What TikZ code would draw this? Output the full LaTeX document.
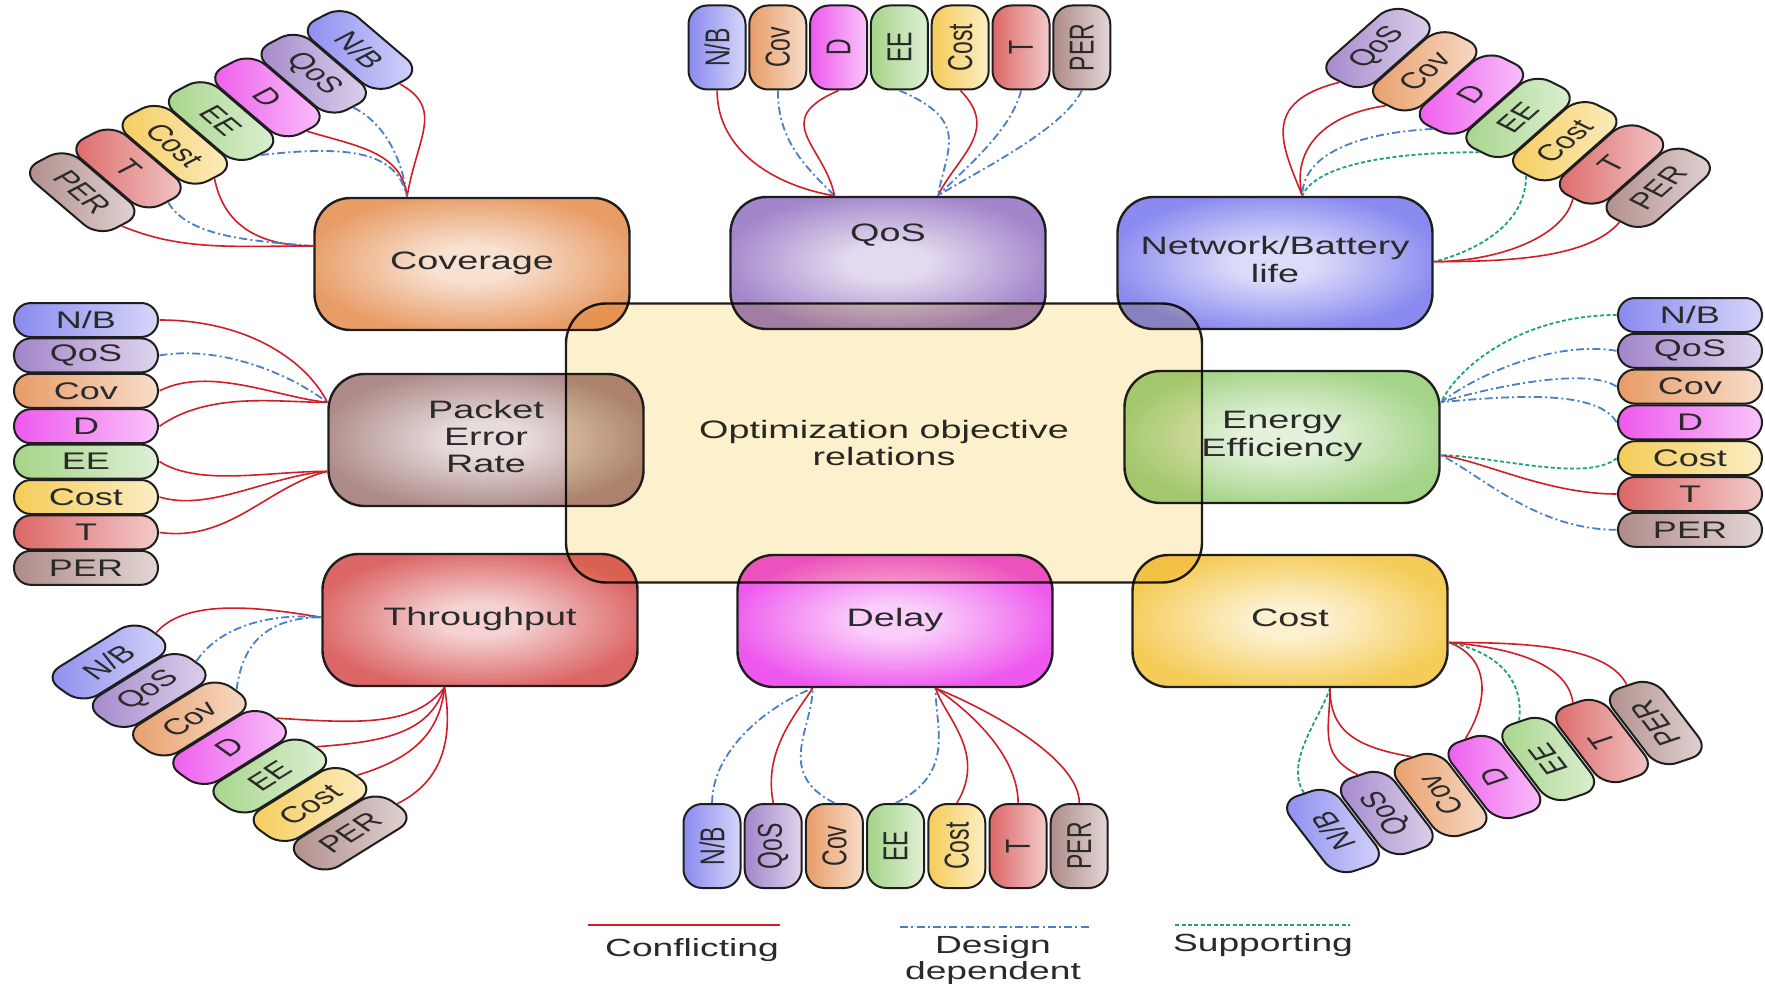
\documentclass[tikz,border=0pt]{standalone}
\usepackage{fontspec}
\usepackage{graphicx}
\setmainfont{Liberation Sans}
\usetikzlibrary{calc}

\definecolor{nbC}{HTML}{8A8AF0}
\definecolor{qosC}{HTML}{A285CA}
\definecolor{covC}{HTML}{E89C66}
\definecolor{dC}{HTML}{EE58EE}
\definecolor{eeC}{HTML}{A4D488}
\definecolor{costC}{HTML}{F5CC58}
\definecolor{tC}{HTML}{DC6666}
\definecolor{perC}{HTML}{AE8B88}
\definecolor{cenC}{HTML}{FDF0CC}
\definecolor{lineC}{HTML}{1E1E1E}
\definecolor{txtC}{HTML}{2A2A2A}
\definecolor{redC}{HTML}{D01E28}
\definecolor{blueC}{HTML}{4A7EC8}
\definecolor{greenC}{HTML}{1CA37A}

\newcommand{\nbtext}{N/B}
% wide lettering used in the box labels
\newcommand{\wtext}[1]{\scalebox{1.5}[1]{\begin{tabular}{@{}c@{}}#1\end{tabular}}}

\tikzset{
  % objective box: saturated rim fading to a pale core (stacked ellipses)
  bigbox/.style={draw=lineC, line width=1.2pt, rounded corners=18pt,
    minimum width=157.5pt, minimum height=66pt, inner sep=0pt, align=center,
    text=txtC, font=\fontsize{12.6}{13.6}\selectfont, fill=#1,
    path picture={
      \foreach \j in {0,...,36}{
        \pgfmathsetmacro{\rr}{1.05-0.025*\j}
        \pgfmathsetmacro{\mx}{max(30,min(100,30+70*(\rr-0.25)/0.75))}
        \fill[#1!\mx!white] (path picture bounding box.center)
          ellipse [x radius=\rr*85pt, y radius=\rr*36pt];
      }}},
  pill/.style={transform shape, draw=lineC, line width=1pt, rounded corners=9.4pt,
    minimum width=42pt, minimum height=19pt, inner sep=0pt, text=txtC,
    font=\fontsize{11.5}{12}\selectfont, left color=#1, right color=#1!35!white},
  hpill/.style={pill=#1, minimum width=48pt, minimum height=17pt,
    rounded corners=8.4pt, font=\fontsize{12}{12}\selectfont},
  conf/.style={draw=redC, line width=0.8pt},
  dsgn/.style={draw=blueC, line width=0.9pt, dash pattern=on 4pt off 1.6pt on 1pt off 1.6pt},
  supp/.style={draw=greenC, line width=0.9pt, dash pattern=on 2pt off 1.2pt},
  legtxt/.style={transform shape, text=txtC, font=\fontsize{12.4}{13}\selectfont, inner sep=0pt, align=center},
}

\begin{document}
\begin{tikzpicture}[x=0.5pt, y=-0.5pt]
\path[use as bounding box, fill=white] (0,0) rectangle (1765,984);

% objective boxes
\node[bigbox=covC]  (cov) at (472,264) {\wtext{Coverage}};
\node[bigbox=qosC]  (qos) at (888,263) {\scalebox{1.5}[1]{\raisebox{30pt}{QoS}}};
\node[bigbox=nbC]   (nbb) at (1275,263) {\wtext{Network/Battery\\life}};
\node[bigbox=perC]  (per) at (486,440) {\wtext{Packet\\Error\\Rate}};
\node[bigbox=eeC]   (eeb) at (1282,437) {\wtext{Energy\\Efficiency}};
\node[bigbox=tC]    (thr) at (480,620) {\wtext{Throughput}};
\node[bigbox=dC]    (del) at (895,621) {\wtext{Delay}};
\node[bigbox=costC] (cst) at (1290,621) {\wtext{Cost}};

% everything below is set in wide lettering
\begin{scope}[x=0.333333pt, xscale=1.5]

% central panel laid over the boxes
\begin{scope}[blend mode=multiply]
\node[transform shape, draw=lineC, line width=1.2pt, fill=cenC, rounded corners=20pt,
  minimum width=212pt, minimum height=139.5pt, inner sep=0pt, align=center,
  text=txtC, font=\fontsize{12.6}{13.5}\selectfont] (obj) at (884,443)
  {Optimization objective\\relations};
\end{scope}

% attachment points on the boxes
\coordinate (covT) at ($(cov.north west)!0.295!(cov.north east)$);
\coordinate (covL) at ($(cov.north west)!0.366!(cov.south west)$);
\coordinate (qT1) at ($(qos.north west)!0.331!(qos.north east)$);
\coordinate (qT2) at ($(qos.north west)!0.656!(qos.north east)$);
\coordinate (nT) at ($(nbb.north west)!0.585!(nbb.north east)$);
\coordinate (nR) at ($(nbb.north east)!0.49!(nbb.south east)$);
\coordinate (pU) at ($(per.north west)!0.22!(per.south west)$);
\coordinate (pD) at ($(per.north west)!0.733!(per.south west)$);
\coordinate (eU) at ($(eeb.north east)!0.24!(eeb.south east)$);
\coordinate (eD) at ($(eeb.north east)!0.636!(eeb.south east)$);
\coordinate (tL) at ($(thr.north west)!0.48!(thr.south west)$);
\coordinate (tB) at ($(thr.south west)!0.388!(thr.south east)$);
\coordinate (dL) at ($(del.south west)!0.24!(del.south east)$);
\coordinate (dR) at ($(del.south west)!0.627!(del.south east)$);
\coordinate (cB) at ($(cst.south west)!0.625!(cst.south east)$);
\coordinate (cR) at ($(cst.north east)!0.66!(cst.south east)$);

% pill groups
\foreach \k/\txt/\col [count=\i from 0] in {nb/\nbtext/nbC, qos/QoS/qosC, d/D/dC, ee/EE/eeC, cost/Cost/costC, t/T/tC, per/PER/perC}
  \node[pill=\col, rotate=-52] (g1-\k) at ({360-46.3*\i},{50+23.7*\i}) {\txt};
\foreach \k/\txt/\col [count=\i from 0] in {nb/\nbtext/nbC, cov/Cov/covC, d/D/dC, ee/EE/eeC, cost/Cost/costC, t/T/tC, per/PER/perC}
  \node[pill=\col, rotate=90] (g2-\k) at ({717+60.8*\i},47.5) {\txt};
\foreach \k/\txt/\col [count=\i from 0] in {qos/QoS/qosC, cov/Cov/covC, d/D/dC, ee/EE/eeC, cost/Cost/costC, t/T/tC, per/PER/perC}
  \node[pill=\col, rotate=53] (g3-\k) at ({1378+46.7*\i},{48+23.3*\i}) {\txt};
\foreach \k/\txt/\col [count=\i from 0] in {nb/\nbtext/nbC, qos/QoS/qosC, cov/Cov/covC, d/D/dC, ee/EE/eeC, cost/Cost/costC, t/T/tC, per/PER/perC}
  \node[hpill=\col] (g4-\k) at (86,{320+35.4*\i}) {\txt};
\foreach \k/\txt/\col [count=\i from 0] in {nb/\nbtext/nbC, qos/QoS/qosC, cov/Cov/covC, d/D/dC, cost/Cost/costC, t/T/tC, per/PER/perC}
  \node[hpill=\col] (g5-\k) at (1690,{315+35.8*\i}) {\txt};
\foreach \k/\txt/\col [count=\i from 0] in {nb/\nbtext/nbC, qos/QoS/qosC, cov/Cov/covC, d/D/dC, ee/EE/eeC, cost/Cost/costC, per/PER/perC}
  \node[pill=\col, rotate=43] (g6-\k) at ({109+40.2*\i},{662+28.5*\i}) {\txt};
\foreach \k/\txt/\col [count=\i from 0] in {nb/\nbtext/nbC, qos/QoS/qosC, cov/Cov/covC, ee/EE/eeC, cost/Cost/costC, t/T/tC, per/PER/perC}
  \node[pill=\col, rotate=90] (g7-\k) at ({712+61.2*\i},846) {\txt};
\foreach \k/\txt/\col [count=\i from 0] in {nb/\nbtext/nbC, qos/QoS/qosC, cov/Cov/covC, d/D/dC, ee/EE/eeC, t/T/tC, per/PER/perC}
  \node[pill=\col, rotate=117] (g8-\k) at ({1333+53.8*\i},{831-18*\i}) {\txt};

% Coverage relations
\draw[conf] (g1-nb.east) .. controls +(45,25) and +(10,-60) .. (covT);
\draw[dsgn] (g1-qos.east) .. controls +(30,15) and +(-5,-40) .. (covT);
\draw[conf] (g1-d.east) .. controls +(50,15) and +(-5,-45) .. (covT);
\draw[dsgn] (g1-ee.east) .. controls +(90,-10) and +(-10,-45) .. (covT);
\draw[conf] (g1-cost.east) .. controls +(10,50) and +(-50,0) .. (covL);
\draw[dsgn] (g1-t.east) .. controls +(20,35) and +(-60,-5) .. (covL);
\draw[conf] (g1-per.east) .. controls +(60,25) and +(-80,0) .. (covL);

% QoS relations
\draw[conf] (g2-nb.west) .. controls +(0,60) and +(-60,-10) .. (qT1);
\draw[dsgn] (g2-cov.west) .. controls +(0,50) and +(-30,-30) .. (qT1);
\draw[conf] (g2-d.west) .. controls +(-70,30) and +(-10,-50) .. (qT1);
\draw[dsgn] (g2-ee.west) .. controls +(70,30) and +(10,-50) .. (qT2);
\draw[conf] (g2-cost.west) .. controls +(40,40) and +(20,-40) .. (qT2);
\draw[dsgn] (g2-t.west) .. controls +(-10,40) and +(30,-30) .. (qT2);
\draw[dsgn] (g2-per.west) .. controls +(-20,40) and +(40,-25) .. (qT2);

% Network/Battery life relations
\draw[conf] (g3-qos.west) .. controls +(-80,20) and +(-20,-50) .. (nT);
\draw[conf] (g3-cov.west) .. controls +(-70,10) and +(-10,-40) .. (nT);
\draw[dsgn] (g3-d.west) .. controls +(-90,5) and +(0,-35) .. (nT);
\draw[supp] (g3-ee.west) .. controls +(-110,0) and +(10,-25) .. (nT);
\draw[supp] (g3-cost.west) .. controls +(0,50) and +(40,-10) .. (nR);
\draw[conf] (g3-t.west) .. controls +(-10,40) and +(60,0) .. (nR);
\draw[conf] (g3-per.west) .. controls +(-30,35) and +(80,0) .. (nR);

% Packet Error Rate relations
\draw[conf] (g4-nb.east) .. controls +(90,0) and +(-20,-40) .. (pU);
\draw[dsgn] (g4-qos.east) .. controls +(60,-10) and +(-40,-30) .. (pU);
\draw[conf] (g4-cov.east) .. controls +(50,-25) and +(-50,-5) .. (pU);
\draw[conf] (g4-d.east) .. controls +(50,-35) and +(-50,0) .. (pU);
\draw[conf] (g4-ee.east) .. controls +(40,25) and +(-60,0) .. (pD);
\draw[conf] (g4-cost.east) .. controls +(50,15) and +(-60,5) .. (pD);
\draw[conf] (g4-t.east) .. controls +(70,10) and +(-60,15) .. (pD);

% Energy Efficiency relations
\draw[supp] (g5-nb.west) .. controls +(-90,0) and +(20,-40) .. (eU);
\draw[dsgn] (g5-qos.west) .. controls +(-60,-10) and +(40,-30) .. (eU);
\draw[dsgn] (g5-cov.west) .. controls +(-30,-20) and +(50,-15) .. (eU);
\draw[dsgn] (g5-d.west) .. controls +(-20,-35) and +(60,-5) .. (eU);
\draw[supp] (g5-cost.west) .. controls +(-30,25) and +(50,0) .. (eD);
\draw[conf] (g5-t.west) .. controls +(-70,0) and +(40,5) .. (eD);
\draw[dsgn] (g5-per.west) .. controls +(-80,0) and +(40,20) .. (eD);

% Throughput relations
\draw[conf] (g6-nb.east) .. controls +(30,-35) and +(-60,-10) .. (tL);
\draw[dsgn] (g6-qos.east) .. controls +(20,-30) and +(-60,-5) .. (tL);
\draw[dsgn] (g6-cov.east) .. controls +(5,-40) and +(-60,0) .. (tL);
\draw[conf] (g6-d.east) .. controls +(80,5) and +(-30,40) .. (tB);
\draw[conf] (g6-ee.east) .. controls +(70,-5) and +(-15,45) .. (tB);
\draw[conf] (g6-cost.east) .. controls +(50,-15) and +(-5,50) .. (tB);
\draw[conf] (g6-per.east) .. controls +(40,-20) and +(10,60) .. (tB);

% Delay relations
\draw[dsgn] (g7-nb.east) .. controls +(0,-50) and +(-50,20) .. (dL);
\draw[conf] (g7-qos.east) .. controls +(-10,-50) and +(-20,30) .. (dL);
\draw[dsgn] (g7-cov.east) .. controls +(-60,-30) and +(0,40) .. (dL);
\draw[dsgn] (g7-ee.east) .. controls +(60,-30) and +(0,40) .. (dR);
\draw[conf] (g7-cost.east) .. controls +(30,-50) and +(10,30) .. (dR);
\draw[conf] (g7-t.east) .. controls +(0,-50) and +(30,20) .. (dR);
\draw[conf] (g7-per.east) .. controls +(0,-45) and +(50,20) .. (dR);

% Cost relations
\draw[supp] (g8-nb.east) .. controls +(-20,-30) and +(-10,30) .. (cB);
\draw[conf] (g8-qos.east) .. controls +(-40,-20) and +(0,40) .. (cB);
\draw[conf] (g8-cov.east) .. controls +(-60,-10) and +(0,40) .. (cB);
\draw[conf] (g8-d.east) .. controls +(25,-40) and +(40,15) .. (cR);
\draw[supp] (g8-ee.east) .. controls +(5,-40) and +(50,10) .. (cR);
\draw[conf] (g8-t.east) .. controls +(-5,-40) and +(60,5) .. (cR);
\draw[conf] (g8-per.east) .. controls +(-20,-40) and +(70,0) .. (cR);

% legend
\coordinate (lr1) at (588,925);  \coordinate (lr2) at (780,925);
\coordinate (lb1) at (900,927);  \coordinate (lb2) at (1090,927);
\coordinate (lg1) at (1175,925); \coordinate (lg2) at (1350,925);
\draw[conf, line width=1pt] (lr1) -- (lr2);
\draw[dsgn, line width=1pt] (lb1) -- (lb2);
\draw[supp, line width=1pt] (lg1) -- (lg2);
\node[legtxt] (lgc) at (692,950) {Conflicting};
\node[legtxt] (lgd) at (993,960) {Design\\dependent};
\node[legtxt] (lgs) at (1263,945) {Supporting};
\end{scope}
\end{tikzpicture}
\end{document}
